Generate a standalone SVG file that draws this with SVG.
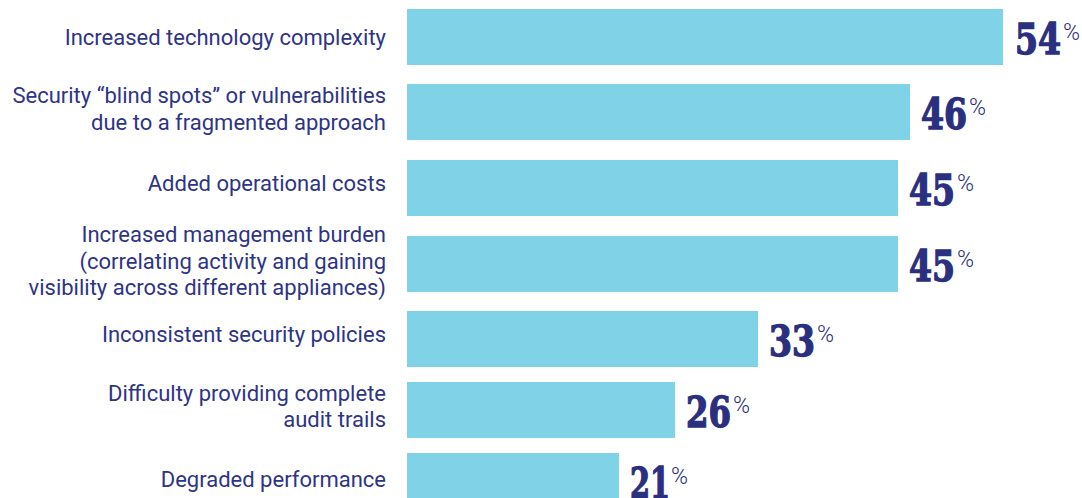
<svg xmlns="http://www.w3.org/2000/svg" width="1082" height="498" viewBox="0 0 1082 498">
<style>
.bar{fill:#80d2e7}
.lbl{font-family:Roboto,"Liberation Sans",sans-serif;font-size:22px;fill:#2e3486;text-anchor:end}
.num{font-family:"DejaVu Serif","Liberation Serif",serif;font-weight:bold;font-stretch:condensed;font-size:42px;fill:#2b2f80;stroke:#2b2f80;stroke-width:1.3}
.pct{font-family:Roboto,"Liberation Sans",sans-serif;font-weight:300;font-size:23px;fill:#2b2f80}
</style>
<rect width="1082" height="498" fill="#ffffff"/>
<g id="row1">
<text class="lbl" x="386" y="44.5">Increased technology complexity</text>
<rect class="bar" x="407" y="9" width="596" height="56"/>
<text class="num" x="1015" y="54" textLength="46" lengthAdjust="spacingAndGlyphs">54</text>
<text class="pct" x="1063" y="40">%</text>
</g>
<g id="row2">
<text class="lbl" x="386" y="103">Security “blind spots” or vulnerabilities</text>
<text class="lbl" x="386" y="129.5">due to a fragmented approach</text>
<rect class="bar" x="407" y="84" width="503" height="56"/>
<text class="num" x="921" y="129" textLength="46" lengthAdjust="spacingAndGlyphs">46</text>
<text class="pct" x="969" y="115">%</text>
</g>
<g id="row3">
<text class="lbl" x="386" y="191">Added operational costs</text>
<rect class="bar" x="407" y="160" width="491" height="56"/>
<text class="num" x="909" y="205" textLength="46" lengthAdjust="spacingAndGlyphs">45</text>
<text class="pct" x="957" y="191">%</text>
</g>
<g id="row4">
<text class="lbl" x="386" y="242">Increased management burden</text>
<text class="lbl" x="386" y="268.5">(correlating activity and gaining</text>
<text class="lbl" x="386" y="295">visibility across different appliances)</text>
<rect class="bar" x="407" y="236" width="491" height="56"/>
<text class="num" x="909" y="281" textLength="46" lengthAdjust="spacingAndGlyphs">45</text>
<text class="pct" x="957" y="267">%</text>
</g>
<g id="row5">
<text class="lbl" x="386" y="342">Inconsistent security policies</text>
<rect class="bar" x="407" y="311" width="351" height="56"/>
<text class="num" x="769" y="356" textLength="46" lengthAdjust="spacingAndGlyphs">33</text>
<text class="pct" x="817" y="342">%</text>
</g>
<g id="row6">
<text class="lbl" x="386" y="401">Difficulty providing complete</text>
<text class="lbl" x="386" y="427">audit trails</text>
<rect class="bar" x="407" y="382" width="268" height="56"/>
<text class="num" x="686" y="427" textLength="45" lengthAdjust="spacingAndGlyphs">26</text>
<text class="pct" x="733" y="413">%</text>
</g>
<g id="row7">
<text class="lbl" x="386" y="487">Degraded performance</text>
<rect class="bar" x="407" y="453" width="212" height="56"/>
<text class="num" x="630" y="498" textLength="40" lengthAdjust="spacingAndGlyphs">21</text>
<text class="pct" x="671" y="484">%</text>
</g>
</svg>
